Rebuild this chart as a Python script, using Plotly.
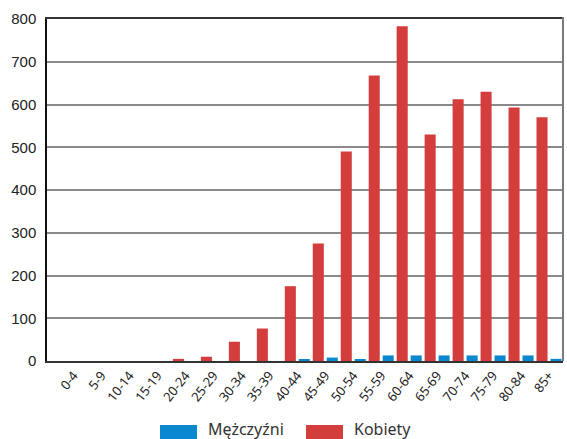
import plotly.graph_objects as go

age_groups = ["0-4", "5-9", "10-14", "15-19", "20-24", "25-29", "30-34", "35-39",
              "40-44", "45-49", "50-54", "55-59", "60-64", "65-69", "70-74",
              "75-79", "80-84", "85+"]
kobiety = [0, 0, 0, 0, 5, 10, 45, 76, 175, 275, 490, 668, 783, 530, 612, 630, 593, 570]
mezczyzni = [0, 0, 0, 0, 0, 0, 0, 0, 3, 8, 3, 13, 13, 13, 13, 13, 13, 5]
y_ticks = [0, 100, 200, 300, 400, 500, 600, 700, 800]

RED = "#D33D3B"
BLUE = "#0A88CF"

fig = go.Figure()
fig.add_trace(go.Bar(x=age_groups, y=kobiety, name="Kobiety",
                     marker=dict(color=RED, line=dict(width=0)), showlegend=False))
fig.add_trace(go.Bar(x=age_groups, y=mezczyzni, name="Mężczyźni",
                     marker=dict(color=BLUE, line=dict(width=0)), showlegend=False))

# custom legend below the plot: wide colour swatches with labels
legend_items = [("Mężczyźni", BLUE, 160), ("Kobiety", RED, 306)]
for label, color, x0 in legend_items:
    fig.add_shape(type="rect", xref="paper", yref="paper",
                  x0=(x0 - 47) / 516, x1=(x0 + 37 - 47) / 516,
                  y0=(361 - 440) / 342, y1=(361 - 425) / 342,
                  fillcolor=color, line=dict(width=0), layer="above")
    fig.add_annotation(text=label, xref="paper", yref="paper",
                       x=(x0 + 46 - 47) / 516, y=(361 - 429) / 342,
                       xanchor="left", yanchor="middle", showarrow=False,
                       font=dict(family="Noto Sans", size=16, color="#333333"))

# right frame edge
fig.add_shape(type="line", xref="paper", yref="paper", x0=1, x1=1, y0=0, y1=1.006,
              line=dict(color="#7a7a7a", width=2))

fig.update_layout(
    width=567, height=439,
    margin=dict(l=47, r=4, t=19, b=78),
    paper_bgcolor="white", plot_bgcolor="white",
    barmode="group", bargap=0, bargroupgap=0.21,
    xaxis=dict(type="category", range=[-0.95, 17.5],
               tickangle=-52, tickfont=dict(family="Noto Sans", size=13, color="#222222"),
               showline=True, linecolor="#333333", linewidth=1.5, mirror=True,
               showgrid=False, ticks=""),
    yaxis=dict(range=[0, 800], tickvals=y_ticks,
               tickfont=dict(family="Liberation Sans", size=15, color="#222222"),
               showgrid=True, gridcolor="#8a8a8a", gridwidth=1.5,
               showline=True, linecolor="#111111", linewidth=1.5,
               zeroline=False, ticks="", ticklabelstandoff=6),
)

fig.write_html("out.html")
